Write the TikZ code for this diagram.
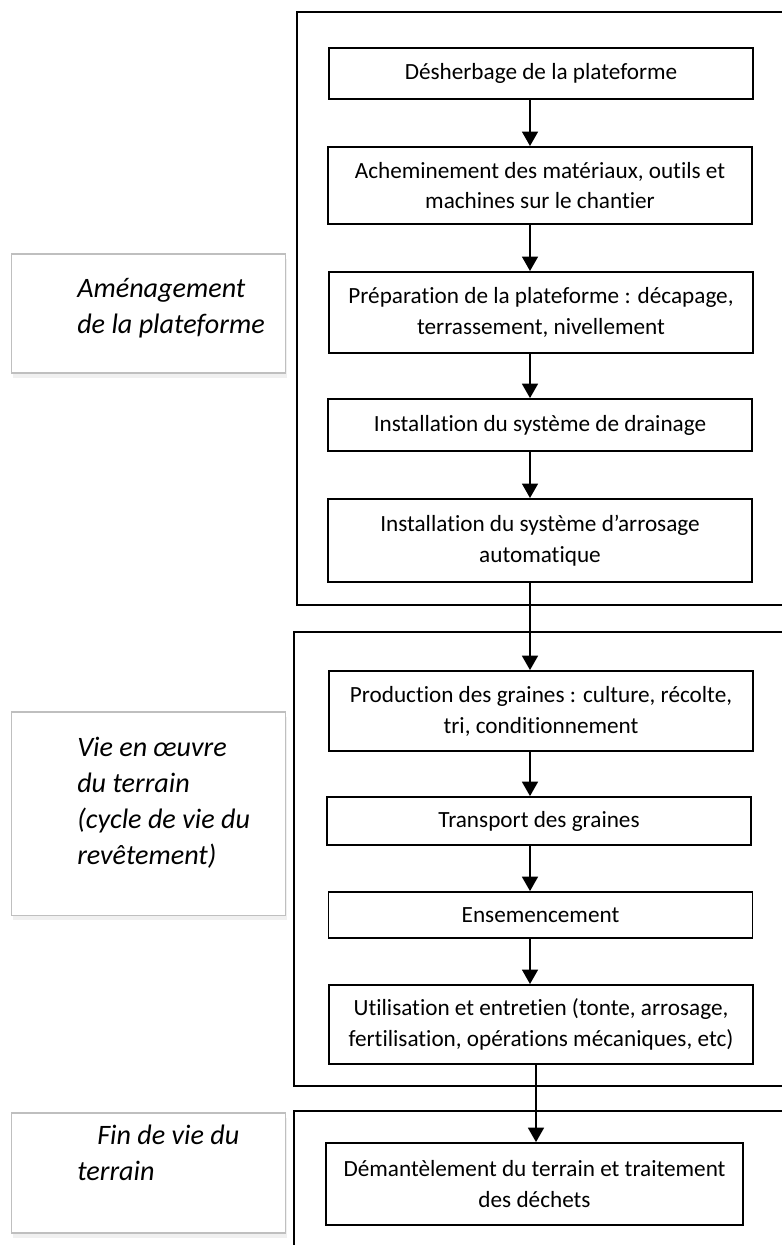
\documentclass[tikz,border=0pt]{standalone}
\usepackage{fontspec}
\setmainfont{Carlito}[Ligatures=NoCommon]
\usetikzlibrary{arrows.meta,shadows}

\tikzset{
  stepbox/.style={draw, line width=1.3pt, minimum width=10.6cm, align=center,
    font=\fontsize{16.5}{22}\selectfont, inner sep=2pt},
  phasebox/.style={draw=black!25, line width=0.9pt, fill=white, minimum width=6.83cm,
    drop shadow={shadow xshift=0.04cm, shadow yshift=-0.12cm, opacity=0.12}},
  phasetext/.style={font=\fontsize{20}{25.5}\selectfont\itshape, align=left,
    anchor=base west, inner sep=0pt},
  frame/.style={draw, line width=1.3pt},
  flow/.style={-{Triangle[width=0.4cm,length=0.36cm]}, line width=1.1pt}
}

\begin{document}
\begin{tikzpicture}[x=0.025cm, y=-0.025cm]
  \useasboundingbox (0,0) rectangle (782,1245);
  \clip (0,0) rectangle (782,1245);

  % cadres des trois phases
  \draw[frame] (297,12) rectangle (800,605);
  \draw[frame] (294,632) rectangle (800,1086);
  \draw[frame] (294,1111) rectangle (800,1270);

  % phases
  \node[phasebox, minimum height=2.98cm] (amenagement) at (148.5,313.5) {};
  \node[phasebox, minimum height=5.08cm] (vieoeuvre) at (148.5,813.5) {};
  \node[phasebox, minimum height=3.0cm] (finvie) at (148.5,1173) {};
  \node[phasetext] (amenagementtxt) at (77,333) {Aménagement\\de la plateforme};
  \node[phasetext] (vieoeuvretxt) at (77,864) {Vie en œuvre\\du terrain\\(cycle de vie du\\revêtement)};
  \node[phasetext] (finvietxt) at (77,1180) {\hspace*{0.5cm}Fin de vie du\\terrain};

  % etapes
  \node[stepbox, minimum height=1.28cm] (desherbage) at (541,73.5) {Désherbage de la plateforme};
  \node[stepbox, minimum height=1.93cm] (acheminement) at (540,185.5) {Acheminement des matériaux, outils et\\machines sur le chantier};
  \node[stepbox, minimum height=2.03cm] (preparation) at (541,312.5) {Préparation de la plateforme : décapage,\\terrassement, nivellement};
  \node[stepbox, minimum height=1.3cm] (drainage) at (540,425) {Installation du système de drainage};
  \node[stepbox, minimum height=2.08cm] (arrosage) at (540,540.5) {Installation du système d’arrosage\\automatique};
  \node[stepbox, minimum height=2.0cm] (production) at (541,711) {Production des graines : culture, récolte,\\tri, conditionnement};
  \node[stepbox, minimum height=1.2cm] (transport) at (539,821) {Transport des graines};
  \node[stepbox, minimum height=1.15cm] (ensemencement) at (540.5,915) {Ensemencement};
  \node[stepbox, minimum height=1.98cm] (utilisation) at (541,1024.5) {Utilisation et entretien (tonte, arrosage,\\fertilisation, opérations mécaniques, etc)};
  \node[stepbox, minimum height=2.05cm, minimum width=10.43cm] (demantelement) at (534.5,1184) {Démantèlement du terrain et traitement\\des déchets};

  % fleches
  \coordinate (axis) at (530,0);
  \coordinate (axisb) at (536,0);
  \path
    (desherbage.south -| axis) edge[flow] (acheminement.north -| axis)
    (acheminement.south -| axis) edge[flow] (preparation.north -| axis)
    (preparation.south -| axis) edge[flow] (drainage.north -| axis)
    (drainage.south -| axis) edge[flow] (arrosage.north -| axis)
    (arrosage.south -| axis) edge[flow] (production.north -| axis)
    (production.south -| axis) edge[flow] (transport.north -| axis)
    (transport.south -| axis) edge[flow] (ensemencement.north -| axis)
    (ensemencement.south -| axis) edge[flow] (utilisation.north -| axis)
    (utilisation.south -| axisb) edge[flow] (demantelement.north -| axisb);
\end{tikzpicture}
\end{document}
